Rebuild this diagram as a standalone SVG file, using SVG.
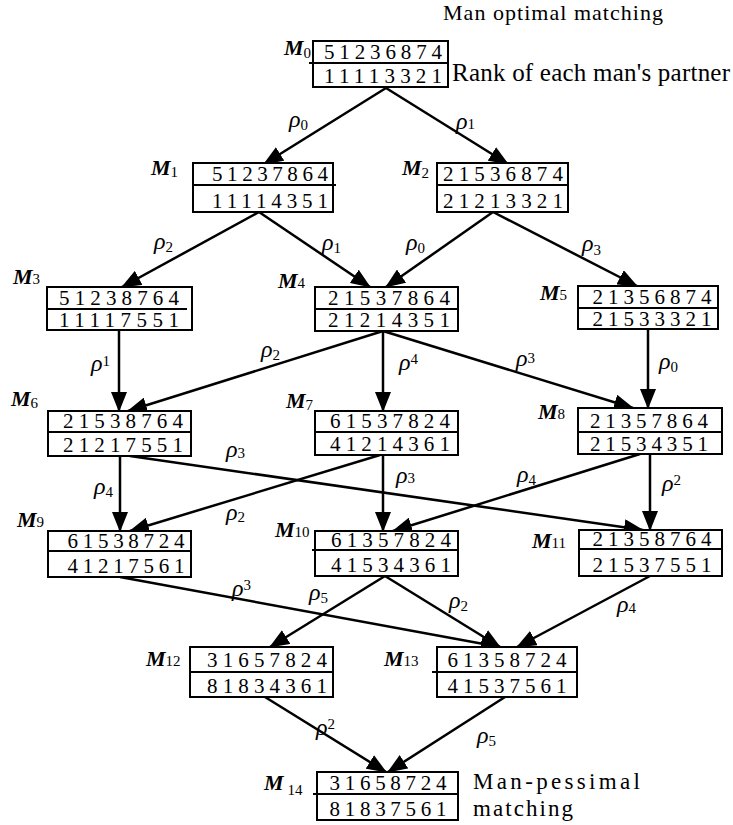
<svg xmlns="http://www.w3.org/2000/svg" width="733" height="825" viewBox="0 0 733 825">
<style>
.bx{fill:#fff;stroke:#000;stroke-width:2}
.dv{stroke:#000;stroke-width:2}
.dg{font-family:"Liberation Serif","Times New Roman",Times,serif;font-size:21px;fill:#000;text-anchor:middle}
.ml{font-family:"Liberation Serif","Times New Roman",Times,serif;font-size:22px;font-weight:bold;font-style:italic;fill:#000}
.ms{font-weight:normal;font-style:normal;font-size:15px}
.r{font-family:"Liberation Serif","Times New Roman",Times,serif;font-size:24px;font-style:italic;fill:#000}
.rs{font-style:normal;font-size:15px}
.t{font-family:"Liberation Serif","Times New Roman",Times,serif;fill:#000}
.e{stroke:#000;stroke-width:2.5;fill:none;marker-end:url(#ah)}
</style>
<defs>
<marker id="ah" markerUnits="userSpaceOnUse" markerWidth="20" markerHeight="16" refX="19" refY="8" orient="auto">
<path d="M0,0 L20,8 L0,16 z" fill="#000"/>
</marker>
</defs>

<text class="t" x="443" y="20" font-size="22" textLength="220">Man optimal matching</text>
<text class="t" x="452" y="81" font-size="25" textLength="278">Rank of each man's partner</text>
<text class="t" x="473" y="789" font-size="23" textLength="167">Man-pessimal</text>
<text class="t" x="473" y="816" font-size="23" textLength="100">matching</text>

<g id="connectors">
<line class="e" x1="386" y1="88" x2="264" y2="164"/>
<line class="e" x1="386" y1="88" x2="508" y2="164"/>
<line class="e" x1="259" y1="212" x2="122" y2="287"/>
<line class="e" x1="259" y1="212" x2="370" y2="287"/>
<line class="e" x1="493" y1="212" x2="386" y2="287"/>
<line class="e" x1="493" y1="212" x2="637" y2="286"/>
<line class="e" x1="119" y1="330" x2="119" y2="411"/>
<line class="e" x1="383" y1="331" x2="128" y2="411"/>
<line class="e" x1="383" y1="331" x2="383" y2="411"/>
<line class="e" x1="383" y1="331" x2="633" y2="408"/>
<line class="e" x1="648" y1="329" x2="648" y2="408"/>
<line class="e" x1="120" y1="456" x2="120" y2="531"/>
<line class="e" x1="130" y1="456" x2="643" y2="530"/>
<line class="e" x1="380" y1="455" x2="130" y2="531"/>
<line class="e" x1="383" y1="455" x2="383" y2="531"/>
<line class="e" x1="640" y1="454" x2="393" y2="531"/>
<line class="e" x1="650" y1="454" x2="650" y2="530"/>
<line class="e" x1="120" y1="577" x2="500" y2="647"/>
<line class="e" x1="385" y1="576" x2="270" y2="647"/>
<line class="e" x1="385" y1="576" x2="500" y2="647"/>
<line class="e" x1="650" y1="576" x2="517" y2="647"/>
<line class="e" x1="265" y1="697" x2="386" y2="772"/>
<line class="e" x1="505" y1="697" x2="388" y2="772"/>

<text class="r" x="289" y="127">ρ<tspan class="rs" dy="3">0</tspan></text>
<text class="r" x="456" y="129">ρ<tspan class="rs" dy="0">1</tspan></text>
<text class="r" x="154" y="249">ρ<tspan class="rs" dy="3">2</tspan></text>
<text class="r" x="322" y="250">ρ<tspan class="rs" dy="3">1</tspan></text>
<text class="r" x="406" y="250">ρ<tspan class="rs" dy="3">0</tspan></text>
<text class="r" x="582" y="251">ρ<tspan class="rs" dy="4">3</tspan></text>
<text class="r" x="91" y="371">ρ<tspan class="rs" dy="-5">1</tspan></text>
<text class="r" x="261" y="357">ρ<tspan class="rs" dy="3">2</tspan></text>
<text class="r" x="399" y="370">ρ<tspan class="rs" dy="-6">4</tspan></text>
<text class="r" x="516" y="366">ρ<tspan class="rs" dy="-3">3</tspan></text>
<text class="r" x="659" y="369">ρ<tspan class="rs" dy="3">0</tspan></text>
<text class="r" x="94" y="494">ρ<tspan class="rs" dy="3">4</tspan></text>
<text class="r" x="226" y="457">ρ<tspan class="rs" dy="1">3</tspan></text>
<text class="r" x="226" y="520">ρ<tspan class="rs" dy="2">2</tspan></text>
<text class="r" x="396" y="483">ρ<tspan class="rs" dy="0">3</tspan></text>
<text class="r" x="517" y="482">ρ<tspan class="rs" dy="3">4</tspan></text>
<text class="r" x="662" y="491">ρ<tspan class="rs" dy="-6">2</tspan></text>
<text class="r" x="232" y="596">ρ<tspan class="rs" dy="-6">3</tspan></text>
<text class="r" x="309" y="600">ρ<tspan class="rs" dy="3">5</tspan></text>
<text class="r" x="449" y="608">ρ<tspan class="rs" dy="3">2</tspan></text>
<text class="r" x="617" y="612">ρ<tspan class="rs" dy="1">4</tspan></text>
<text class="r" x="316" y="735">ρ<tspan class="rs" dy="-6">2</tspan></text>
<text class="r" x="477" y="743">ρ<tspan class="rs" dy="3">5</tspan></text>
</g>

<g id="M0"><rect class="bx" x="313" y="41" width="135" height="46"/><line class="dv" x1="309" y1="63" x2="448" y2="63"/>
<text class="dg" x="383" y="59" textLength="118">51236874</text><text class="dg" x="383" y="83" textLength="118">11113321</text>
<text class="ml" x="284" y="55">M<tspan class="ms" dy="3">0</tspan></text></g>

<g id="M1"><rect class="bx" x="193" y="163" width="140" height="49"/><line class="dv" x1="193" y1="185" x2="336" y2="185"/>
<text class="dg" x="270" y="181" textLength="116">51237864</text><text class="dg" x="270" y="208" textLength="116">11114351</text>
<text class="ml" x="151" y="175">M<tspan class="ms" dy="2">1</tspan></text></g>

<g id="M2"><rect class="bx" x="437" y="163" width="131" height="49"/><line class="dv" x1="437" y1="185" x2="568" y2="185"/>
<text class="dg" x="503" y="181" textLength="120">21536874</text><text class="dg" x="503" y="208" textLength="120">21213321</text>
<text class="ml" x="402" y="175">M<tspan class="ms" dy="3">2</tspan></text></g>

<g id="M3"><rect class="bx" x="47" y="287" width="145" height="43"/><line class="dv" x1="47" y1="309" x2="187" y2="309"/>
<text class="dg" x="119" y="305" textLength="120">51238764</text><text class="dg" x="119" y="327" textLength="120">11117551</text>
<text class="ml" x="13" y="284">M<tspan class="ms">3</tspan></text></g>

<g id="M4"><rect class="bx" x="315" y="287" width="143" height="44"/><line class="dv" x1="315" y1="309" x2="458" y2="309"/>
<text class="dg" x="389" y="305" textLength="122">21537864</text><text class="dg" x="389" y="327" textLength="122">21214351</text>
<text class="ml" x="278" y="288">M<tspan class="ms">4</tspan></text></g>

<g id="M5"><rect class="bx" x="578" y="286" width="140" height="43"/><line class="dv" x1="578" y1="308" x2="718" y2="308"/>
<text class="dg" x="652" y="304" textLength="119">21356874</text><text class="dg" x="652" y="326" textLength="119">21533321</text>
<text class="ml" x="540" y="300">M<tspan class="ms">5</tspan></text></g>

<g id="M6"><rect class="bx" x="48" y="411" width="143" height="45"/><line class="dv" x1="48" y1="432" x2="191" y2="432"/>
<text class="dg" x="123" y="428" textLength="120">21538764</text><text class="dg" x="123" y="452" textLength="120">21217551</text>
<text class="ml" x="11" y="406">M<tspan class="ms" dy="2">6</tspan></text></g>

<g id="M7"><rect class="bx" x="315" y="411" width="143" height="44"/><line class="dv" x1="315" y1="432" x2="458" y2="432"/>
<text class="dg" x="390" y="428" textLength="120">61537824</text><text class="dg" x="390" y="451" textLength="120">41214361</text>
<text class="ml" x="286" y="408">M<tspan class="ms" dy="2">7</tspan></text></g>

<g id="M8"><rect class="bx" x="578" y="408" width="144" height="46"/><line class="dv" x1="578" y1="432" x2="722" y2="432"/>
<text class="dg" x="649" y="428" textLength="118">21357864</text><text class="dg" x="649" y="451" textLength="118">21534351</text>
<text class="ml" x="538" y="419">M<tspan class="ms">8</tspan></text></g>

<g id="M9"><rect class="bx" x="48" y="531" width="143" height="46"/><line class="dv" x1="48" y1="551" x2="191" y2="551"/>
<text class="dg" x="126" y="548" textLength="117">61538724</text><text class="dg" x="126" y="573" textLength="117">41217561</text>
<text class="ml" x="17" y="527">M<tspan class="ms">9</tspan></text></g>

<g id="M10"><rect class="bx" x="315" y="531" width="143" height="45"/><line class="dv" x1="312" y1="550" x2="458" y2="550"/>
<text class="dg" x="391" y="547" textLength="120">61357824</text><text class="dg" x="391" y="572" textLength="120">41534361</text>
<text class="ml" x="275" y="537">M<tspan class="ms">10</tspan></text></g>

<g id="M11"><rect class="bx" x="579" y="530" width="143" height="46"/><line class="dv" x1="579" y1="549" x2="722" y2="549"/>
<text class="dg" x="652" y="546" textLength="119">21358764</text><text class="dg" x="652" y="572" textLength="119">21537551</text>
<text class="ml" x="532" y="548">M<tspan class="ms">11</tspan></text></g>

<g id="M12"><rect class="bx" x="190" y="647" width="143" height="50"/><line class="dv" x1="190" y1="672" x2="333" y2="672"/>
<text class="dg" x="267" y="667" textLength="120">31657824</text><text class="dg" x="267" y="693" textLength="120">81834361</text>
<text class="ml" x="146" y="666">M<tspan class="ms">12</tspan></text></g>

<g id="M13"><rect class="bx" x="437" y="647" width="140" height="50"/><line class="dv" x1="432" y1="672" x2="577" y2="672"/>
<text class="dg" x="507" y="667" textLength="119">61358724</text><text class="dg" x="507" y="693" textLength="119">41537561</text>
<text class="ml" x="384" y="666">M<tspan class="ms">13</tspan></text></g>

<g id="M14"><rect class="bx" x="317" y="772" width="141" height="48"/><line class="dv" x1="313" y1="794" x2="458" y2="794"/>
<text class="dg" x="388" y="790" textLength="117">31658724</text><text class="dg" x="388" y="816" textLength="117">81837561</text>
<text class="ml" x="264" y="790">M<tspan class="ms" dx="4" dy="5">14</tspan></text></g>
</svg>
